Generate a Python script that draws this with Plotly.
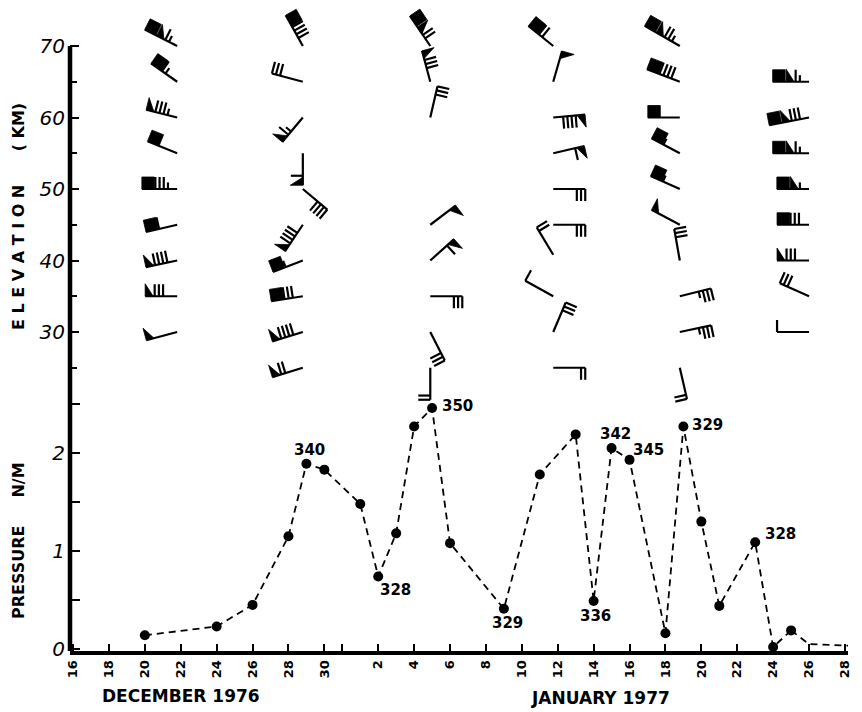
import numpy as np
import plotly.graph_objects as go

# ---------------- data ----------------
# day numbers: December d -> d, January d -> 31 + d
press_days = [20, 24, 26, 28, 29, 30, 32, 33, 34, 35, 36, 37, 40, 42, 44, 45, 46, 47,
              49, 50, 51, 52, 54, 55, 56]
press_vals = [0.14, 0.23, 0.45, 1.15, 1.89, 1.83, 1.48, 0.74, 1.18, 2.27, 2.46, 1.08,
              0.41, 1.78, 2.19, 0.49, 2.05, 1.93, 0.16, 2.27, 1.30, 0.44, 1.09, 0.02, 0.19]
tail_days = [56, 57, 59.7]
tail_vals = [0.19, 0.05, 0.03]

label_days = [29, 33, 36, 40, 45, 46, 47, 50, 54]
label_texts = ["340", "328", "350", "329", "336", "342", "345", "329", "328"]

x_tick_days = list(range(16, 31, 2)) + [31] + list(range(33, 60, 2))
x_tick_text = [str(d) for d in range(16, 31, 2)] + [""] + [str(d - 31) for d in range(33, 60, 2)]

# wind soundings: day, elevation (km), direction wind comes from (deg), speed
snd1_day = 21.8
snd1_elev = [70, 65, 60, 55, 50, 45, 40, 35, 30]
snd1_dir = [297, 305, 284, 292, 270, 257, 258, 270, 255]
snd1_spd = [165, 115, 85, 100, 135, 110, 90, 80, 50]

snd2_day = 28.8
snd2_elev = [70, 65, 60, 55, 50, 45, 40, 35, 30, 25]
snd2_dir = [331, 285, 220, 180, 130, 214, 249, 261, 253, 253]
snd2_spd = [140, 30, 65, 60, 40, 90, 105, 130, 90, 70]

snd3_day = 35.9
snd3_elev = [70, 65, 60, 45, 40, 35, 30, 25]
snd3_dir = [326, 345, 13, 53, 48, 90, 153, 180]
snd3_spd = [170, 80, 30, 50, 60, 30, 30, 20]

snd4_day = 42.75
snd4_elev = [70, 65, 60, 55, 50, 45, 40.8, 35, 30, 25]
snd4_dir = [309, 16, 85, 77, 90, 90, 329, 299, 23, 90]
snd4_spd = [120, 50, 90, 60, 30, 30, 20, 10, 30, 20]

snd5_day = 49.8
snd5_elev = [70, 65, 60, 55, 50, 45, 40, 35, 30, 25]
snd5_dir = [300, 291, 270, 298, 294, 298, 350, 76, 78, 167]
snd5_spd = [175, 140, 100, 105, 105, 50, 30, 35, 35, 20]

snd6_day = 57.0
snd6_elev = [65, 60, 55, 50, 45, 40, 35, 30]
snd6_dir = [270, 259, 270, 270, 270, 270, 294, 270]
snd6_spd = [165, 180, 165, 155, 130, 80, 30, 10]

soundings = [
    (snd1_day, snd1_elev, snd1_dir, snd1_spd),
    (snd2_day, snd2_elev, snd2_dir, snd2_spd),
    (snd3_day, snd3_elev, snd3_dir, snd3_spd),
    (snd4_day, snd4_elev, snd4_dir, snd4_spd),
    (snd5_day, snd5_elev, snd5_dir, snd5_spd),
    (snd6_day, snd6_elev, snd6_dir, snd6_spd),
]

# ---------------- layout geometry (page has an 8px body margin) ----------------
PAGE_OFF = 8
FIG_W, FIG_H = 862 - PAGE_OFF, 712 - PAGE_OFF
PLOT_LEFT_PG, PLOT_RIGHT_PG, PLOT_TOP_PG, PLOT_BOT_PG = 70, 848, 8, 651
M_L = PLOT_LEFT_PG - PAGE_OFF
M_R = 862 - PLOT_RIGHT_PG
M_T = PLOT_TOP_PG - PAGE_OFF
M_B = 712 - PLOT_BOT_PG
PLOT_W = FIG_W - M_L - M_R
PLOT_H = FIG_H - M_T - M_B
X_RANGE = [15.83, 59.17]
PX_PER_DAY = PLOT_W / (X_RANGE[1] - X_RANGE[0])
PX_PER_KM = 7.15
E_TOP = 70 + (46 - PLOT_TOP_PG) / PX_PER_KM
E_RANGE = [E_TOP - PLOT_H / PX_PER_KM, E_TOP]
PX_PER_P = 98.0
P_BOT = -(653 - PLOT_BOT_PG) / PX_PER_P
P_RANGE = [P_BOT, P_BOT + PLOT_H / PX_PER_P]

# ---------------- wind barbs ----------------
STAFF = 32.0
SQ_W, SQ_H = 12.5, 12.0
FL_W, FL_H = 8.0, 12.5
BARB_H = 12.0
SPACING = 4.2

poly_x, poly_y, line_x, line_y = [], [], [], []


def add_barb(day, elev, direction, speed):
    th = np.deg2rad(direction)
    u = np.array([np.sin(th), np.cos(th)])       # toward tip (east, north) in px
    p = np.array([u[1], -u[0]])                  # barb side
    n100 = speed // 100
    rem = speed % 100
    n50 = rem // 50
    rem %= 50
    n10 = rem // 10
    rem %= 10
    n5 = 1 if rem >= 5 else 0
    need = n100 * (SQ_W + 1.0) + n50 * (FL_W + 1.5) + n10 * SPACING + n5 * SPACING
    L = max(STAFF, need + 5)

    def to_data(v):
        return day + v[0] / PX_PER_DAY, elev + v[1] / PX_PER_KM

    def pos(s):
        return u * s

    for v in (np.zeros(2), pos(L)):
        x, y = to_data(v)
        line_x.append(x)
        line_y.append(y)
    line_x.append(None)
    line_y.append(None)

    s = L
    if n100 == 0 and n50 == 0 and n10 == 0:
        s -= SPACING
    for _ in range(n100):
        pts = [pos(s), pos(s) + p * SQ_H, pos(s - SQ_W) + p * SQ_H, pos(s - SQ_W)]
        for v in pts:
            x, y = to_data(v)
            poly_x.append(x)
            poly_y.append(y)
        poly_x.append(None)
        poly_y.append(None)
        s -= SQ_W + 1.0
    for _ in range(n50):
        pts = [pos(s), pos(s) + p * FL_H, pos(s - FL_W)]
        for v in pts:
            x, y = to_data(v)
            poly_x.append(x)
            poly_y.append(y)
        poly_x.append(None)
        poly_y.append(None)
        s -= FL_W + 1.5
    for _ in range(n10):
        for v in (pos(s), pos(s) + p * BARB_H):
            x, y = to_data(v)
            line_x.append(x)
            line_y.append(y)
        line_x.append(None)
        line_y.append(None)
        s -= SPACING
    for _ in range(n5):
        for v in (pos(s), pos(s) + p * BARB_H * 0.55):
            x, y = to_data(v)
            line_x.append(x)
            line_y.append(y)
        line_x.append(None)
        line_y.append(None)


for day, elevs, dirs, spds in soundings:
    for e, d, s in zip(elevs, dirs, spds):
        add_barb(day, e, d, s)

# ---------------- figure ----------------
fig = go.Figure()

fig.add_trace(go.Scatter(
    x=poly_x, y=poly_y, mode="lines", fill="toself", fillcolor="black",
    line=dict(color="black", width=0.8), xaxis="x", yaxis="y2",
    hoverinfo="skip", showlegend=False, connectgaps=False))
fig.add_trace(go.Scatter(
    x=line_x, y=line_y, mode="lines",
    line=dict(color="black", width=2.2), xaxis="x", yaxis="y2",
    hoverinfo="skip", showlegend=False, connectgaps=False))

fig.add_trace(go.Scatter(
    x=tail_days, y=tail_vals, mode="lines",
    line=dict(color="black", width=1.8, dash="7px,5px"),
    hoverinfo="skip", showlegend=False))
fig.add_trace(go.Scatter(
    x=press_days, y=press_vals, mode="lines+markers",
    line=dict(color="black", width=1.8, dash="7px,5px"),
    marker=dict(color="black", size=10),
    hoverinfo="skip", showlegend=False))

# point labels (offsets in px from the point centre)
val_of = dict(zip(press_days, press_vals))
label_dx = [3, 17, 25, 4, 2, 4, 19, 24, 25]
label_dy = [14, -14, 2, -14, -15, 14, 10, 2, 8]
label_font = dict(family="DejaVu Sans", size=15, weight="bold", color="black")
for d, t, dx, dy in zip(label_days, label_texts, label_dx, label_dy):
    fig.add_annotation(x=d, y=val_of[d], text=t, showarrow=False, xref="x", yref="y",
                       xshift=dx, yshift=dy, xanchor="center", yanchor="middle",
                       font=label_font)

axis_font = dict(family="DejaVu Sans", size=20, style="italic", color="black")

fig.update_layout(
    width=FIG_W, height=FIG_H,
    margin=dict(l=M_L, r=M_R, t=M_T, b=M_B, pad=0, autoexpand=False),
    paper_bgcolor="white", plot_bgcolor="white",
    showlegend=False, hovermode=False,
    xaxis=dict(
        range=X_RANGE, showgrid=False, zeroline=False,
        showline=True, linewidth=4, linecolor="black",
        ticks="inside", ticklen=7, tickwidth=2, tickcolor="black",
        tickvals=x_tick_days, ticktext=x_tick_text, tickangle=-90,
        tickfont=dict(family="DejaVu Sans", size=13, weight="bold", color="black"),
    ),
    yaxis=dict(
        range=P_RANGE, showgrid=False, zeroline=False, showline=False,
        ticks="inside", ticklen=10, tickwidth=2, tickcolor="black",
        tickvals=[0, 1, 2], ticktext=["0", "1", "2"], tickfont=axis_font,
        ticklabelstandoff=4,
        minor=dict(tickvals=[0.5, 1.5, 2.5], ticks="inside", ticklen=10,
                   tickwidth=2, tickcolor="black", showgrid=False),
    ),
    yaxis2=dict(
        range=E_RANGE, overlaying="y", side="left", showgrid=False,
        zeroline=False, showline=False,
        ticks="inside", ticklen=9, tickwidth=2, tickcolor="black",
        tickvals=[30, 40, 50, 60, 70], ticktext=["30", "40", "50", "60", "70"],
        tickfont=axis_font, ticklabelstandoff=4,
        minor=dict(tickvals=[25, 35, 45, 55, 65], ticks="inside", ticklen=7,
                   tickwidth=2, tickcolor="black", showgrid=False),
    ),
    shapes=[dict(type="line", xref="paper", x0=0, x1=0, yref="y2",
                 y0=E_RANGE[0], y1=70, line=dict(color="black", width=4.5))],
)

NB = "\u00a0"
elev_title = NB.join(list("ELEVATION")) + NB * 6 + "(" + NB + "KM)"
press_title = "PRESSURE" + NB * 5 + "N/M"
title_font = dict(family="DejaVu Sans", size=16, weight="bold", color="black")

fig.add_annotation(text=elev_title, xref="paper", yref="paper", x=0, xshift=-51,
                   y=(PLOT_BOT_PG - 217) / PLOT_H, textangle=-90, showarrow=False,
                   font=title_font, xanchor="center", yanchor="middle")
fig.add_annotation(text=press_title, xref="paper", yref="paper", x=0, xshift=-52,
                   y=(PLOT_BOT_PG - 541) / PLOT_H, textangle=-90, showarrow=False,
                   font=title_font, xanchor="center", yanchor="middle")

month_font = dict(family="DejaVu Sans", size=17, weight="bold", color="black")
fig.add_annotation(text="DECEMBER 1976", xref="x", yref="paper", x=22.0, y=0,
                   yshift=-(696 - PLOT_BOT_PG), showarrow=False, font=month_font,
                   xanchor="center", yanchor="middle")
fig.add_annotation(text="JANUARY 1977", xref="x", yref="paper", x=45.4, y=0,
                   yshift=-(698 - PLOT_BOT_PG), showarrow=False, font=month_font,
                   xanchor="center", yanchor="middle")

fig.write_html("out.html")
